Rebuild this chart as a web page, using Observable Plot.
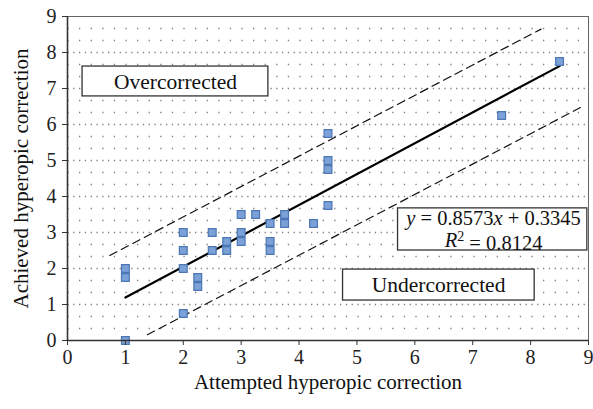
<!DOCTYPE html>
<html>
<head>
<meta charset="utf-8">
<script src="https://cdn.jsdelivr.net/npm/d3@7"></script>
<script src="https://cdn.jsdelivr.net/npm/@observablehq/plot@0.6"></script>
<style>
  html, body { margin: 0; padding: 0; background: #fff; }
  #chart svg { display: block; }
</style>
</head>
<body>
<div id="chart"></div>
<script>
// ---- data ----
const attempted = [1, 1, 1, 2, 2, 2, 2, 2.25, 2.25, 2.5, 2.5, 2.75, 2.75, 3, 3, 3, 3.25, 3.5, 3.5, 3.5, 3.75, 3.75, 4.25, 4.5, 4.5, 4.5, 4.5, 7.5, 8.5];
const achieved  = [0, 2, 1.75, 0.75, 2, 2.5, 3, 1.75, 1.5, 2.5, 3, 2.75, 2.5, 3.5, 3, 2.75, 3.5, 3.25, 2.75, 2.5, 3.5, 3.25, 3.25, 5.75, 5, 4.75, 3.75, 6.25, 7.75];
const xTicks = [0, 1, 2, 3, 4, 5, 6, 7, 8, 9];
const yTicks = [0, 1, 2, 3, 4, 5, 6, 7, 8, 9];
const slope = 0.8573, intercept = 0.3345, r2 = 0.8124;
const trendX = [1, 8.5];
const upperX = [0.73, 8.18], upperY = [2.36, 8.65];
const lowerX = [1.38, 8.93], lowerY = [0.16, 6.53];
const xLabel = "Attempted hyperopic correction";
const yLabel = "Achieved hyperopic correction";
const overLabel = "Overcorrected";
const underLabel = "Undercorrected";

// ---- derived tables ----
const points = attempted.map((x, i) => ({x, y: achieved[i]}));
const trend = trendX.map(x => ({x, y: slope * x + intercept}));
const upper = upperX.map((x, i) => ({x, y: upperY[i]}));
const lower = lowerX.map((x, i) => ({x, y: lowerY[i]}));
const minorGrid = d3.range(0, 27).map(k => k / 3).filter((v, k) => k % 3 !== 0 && v < 9);
const majorGrid = yTicks.filter(v => v > 0 && v < 9);

const font = "'Liberation Serif', 'DejaVu Serif', serif";
const ink = "#222";

const chart = Plot.plot({
  width: 593,
  height: 409,
  marginLeft: 67,
  marginRight: 5,
  marginTop: 16,
  marginBottom: 69,
  style: {fontFamily: font, fontSize: "20px", color: ink, background: "#fff"},
  x: {domain: [0, 9], ticks: xTicks, tickSize: 5, tickPadding: 4, label: null},
  y: {domain: [0, 9], ticks: yTicks, tickSize: 5, tickPadding: 6, label: null},
  marks: [
    Plot.ruleY(minorGrid, {stroke: "#808080", strokeWidth: 1.3, strokeDasharray: "1.3,10.3", strokeDashoffset: -12}),
    Plot.ruleY(majorGrid, {stroke: "#808080", strokeWidth: 1.3, strokeDasharray: "1.3,4.5,1.3,4.5", strokeDashoffset: -12}),
    Plot.frame({stroke: "#666", strokeWidth: 1}),
    Plot.line(upper, {x: "x", y: "y", stroke: "#111", strokeWidth: 1.2, strokeDasharray: "8,5"}),
    Plot.line(lower, {x: "x", y: "y", stroke: "#111", strokeWidth: 1.2, strokeDasharray: "8,5"}),
    Plot.line(trend, {x: "x", y: "y", stroke: "#000", strokeWidth: 2.2}),
    Plot.dot(points, {x: "x", y: "y", symbol: "square", r: 4.4, fill: "#7ba1d6", stroke: "#4b77b6", strokeWidth: 1.2}),
    Plot.rect([0], {x1: 0.26, x2: 3.47, y1: 6.78, y2: 7.61, fill: "#fff", stroke: "#333", strokeWidth: 1.3}),
    Plot.text([overLabel], {x: 1.865, y: 7.19, text: d => d, fontSize: 21.5, fill: "#111"}),
    Plot.rect([0], {x1: 4.76, x2: 8.07, y1: 1.11, y2: 1.97, fill: "#fff", stroke: "#333", strokeWidth: 1.3}),
    Plot.text([underLabel], {x: 6.41, y: 1.54, text: d => d, fontSize: 21.5, fill: "#111"}),
    Plot.rect([0], {x1: 5.71, x2: 8.98, y1: 2.5, y2: 3.67, fill: "#fff", stroke: "#333", strokeWidth: 1.3}),
    Plot.text([`y = ${slope}x + ${intercept}`], {x: 7.36, y: 3.4, text: d => d, fontSize: 20.5, fill: "#111", className: "eq1"}),
    Plot.text([`R2 = ${r2}`], {x: 7.36, y: 2.78, text: d => d, fontSize: 20.5, fill: "#111", className: "eq2"}),
    Plot.ruleX([0], {stroke: "#333", strokeWidth: 1.6}),
    Plot.ruleY([0], {stroke: "#333", strokeWidth: 1.6}),
    Plot.axisX({ticks: xTicks, tickSize: 5, tickPadding: 4, fontSize: 20, stroke: "#333", label: null}),
    Plot.axisY({ticks: yTicks, tickSize: 5, tickPadding: 6, fontSize: 20, stroke: "#333", label: null}),
    Plot.text([xLabel], {frameAnchor: "bottom", dy: 48, text: d => d, fontSize: 21, fill: "#111"}),
    Plot.text([yLabel], {frameAnchor: "left", textAnchor: "middle", dx: -46, rotate: -90, text: d => d, fontSize: 21, fill: "#111"})
  ]
});

// rich text for the equation (italic variables, superscript)
const svg = d3.select(chart);
svg.selectAll("g.eq1 text").each(function() {
  const t = d3.select(this);
  t.text(null);
  t.append("tspan").attr("font-style", "italic").text("y");
  t.append("tspan").text(` = ${slope}`);
  t.append("tspan").attr("font-style", "italic").text("x");
  t.append("tspan").text(` + ${intercept}`);
});
svg.selectAll("g.eq2 text").each(function() {
  const t = d3.select(this);
  t.text(null);
  t.append("tspan").attr("font-style", "italic").text("R");
  t.append("tspan").attr("font-size", "14").attr("dy", "-0.4em").text("2");
  t.append("tspan").attr("dy", "0.4em").text(` = ${r2}`);
});

document.getElementById("chart").appendChild(chart);
</script>
</body>
</html>
